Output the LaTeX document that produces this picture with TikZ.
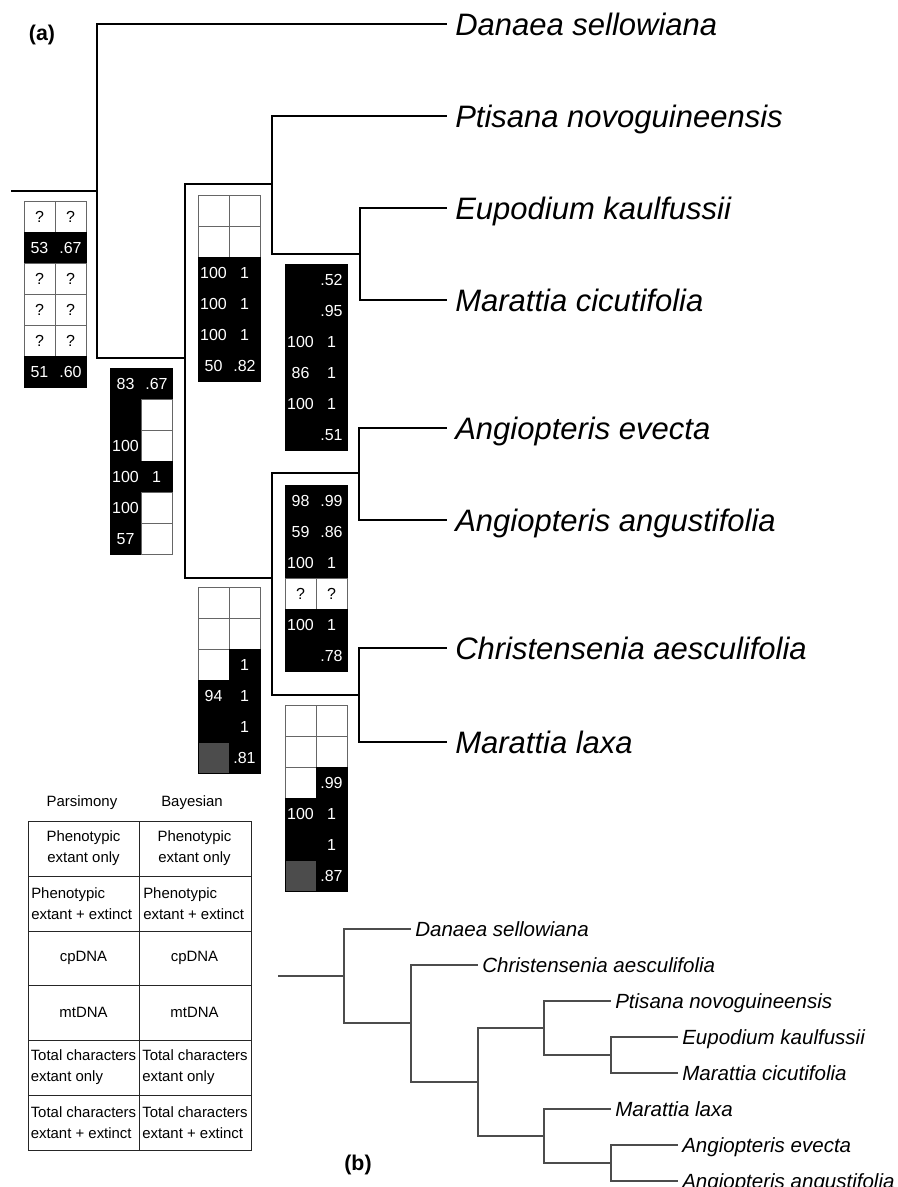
\documentclass[tikz,border=0pt]{standalone}
\usepackage{fontspec}
\setmainfont{Liberation Sans}

\tikzset{
  branch/.style={line width=2.2pt},
  thinbranch/.style={line width=1pt,black!70},
  taxon/.style={anchor=west,inner xsep=6pt,inner ysep=0pt,text height=16.6pt,text depth=0pt,
    font=\fontsize{23.25}{28}\selectfont\itshape},
  smalltaxon/.style={anchor=west,inner xsep=3pt,inner ysep=0pt,text height=11pt,text depth=0pt,
    font=\fontsize{15.4}{18}\selectfont\itshape},
  cellbase/.style={minimum width=23.25pt,minimum height=23.25pt,inner sep=0pt,
    text height=8.6pt,text depth=0pt,font=\fontsize{12}{14}\selectfont},
  cellw/.style={cellbase,fill=white,draw=black!60,line width=.6pt},
  cellb/.style={cellbase,fill=black,draw=black,line width=.6pt,text=white},
  cellg/.style={cellbase,fill=black!70,draw=black,line width=.6pt},
  tabline/.style={line width=.6pt,black!85},
  legtext/.style={inner sep=0pt,align=center,font=\fontsize{11.2}{15.75}\selectfont},
  panel/.style={font=\fontsize{16}{19}\selectfont\bfseries},
}

% one support box: name, left x, top y, rows (row/kind/text/kind/text)
\newcommand{\supportbox}[4]{%
  \foreach \row/\lkind/\ltxt/\rkind/\rtxt in {#4}{
    \node[cell\lkind] (#1-\row-l) at ({#2+15.5},{#3+31*\row-15.5}) {\ltxt};
    \node[cell\rkind] (#1-\row-r) at ({#2+46.5},{#3+31*\row-15.5}) {\rtxt};
  }}

\begin{document}
\begin{tikzpicture}[x=0.75pt,y=-0.75pt]
  \useasboundingbox (0,0) rectangle (898,1187);

  % (a) tree with support boxes
  \node[panel] (lblA) at (42,35) {(a)};
  \coordinate (root) at (11,191);
  \coordinate (nA) at (97,191);
  \coordinate (nB) at (185,358);
  \coordinate (nC) at (272,184);
  \coordinate (nD) at (272,578);
  \coordinate (nE) at (360,254);
  \coordinate (nF) at (359,473);
  \coordinate (nG) at (359,695);

  \node[taxon] (tDan) at (447,24) {Danaea sellowiana};
  \node[taxon] (tPti) at (447,116) {Ptisana novoguineensis};
  \node[taxon] (tEup) at (447,208) {Eupodium kaulfussii};
  \node[taxon] (tMci) at (447,300) {Marattia cicutifolia};
  \node[taxon] (tAev) at (447,428) {Angiopteris evecta};
  \node[taxon] (tAan) at (447,520) {Angiopteris angustifolia};
  \node[taxon] (tChr) at (447,648) {Christensenia aesculifolia};
  \node[taxon] (tMla) at (447,742) {Marattia laxa};

  \draw[branch] (root) -- (nA);
  \draw[branch] (nA) |- (tDan.west);
  \draw[branch] (nA) |- (nB);
  \draw[branch] (nB) |- (nC);
  \draw[branch] (nB) |- (nD);
  \draw[branch] (nC) |- (tPti.west);
  \draw[branch] (nC) |- (nE);
  \draw[branch] (nE) |- (tEup.west);
  \draw[branch] (nE) |- (tMci.west);
  \draw[branch] (nD) |- (nF);
  \draw[branch] (nD) |- (nG);
  \draw[branch] (nF) |- (tAev.west);
  \draw[branch] (nF) |- (tAan.west);
  \draw[branch] (nG) |- (tChr.west);
  \draw[branch] (nG) |- (tMla.west);

  \supportbox{sA}{24}{201}{1/w/?/w/?, 2/b/53/b/.67, 3/w/?/w/?, 4/w/?/w/?, 5/w/?/w/?, 6/b/51/b/.60}
  \supportbox{sB}{110}{368}{1/b/83/b/.67, 2/b/{}/w/{}, 3/b/100/w/{}, 4/b/100/b/1, 5/b/100/w/{}, 6/b/57/w/{}}
  \supportbox{sC}{198}{195}{1/w/{}/w/{}, 2/w/{}/w/{}, 3/b/100/b/1, 4/b/100/b/1, 5/b/100/b/1, 6/b/50/b/.82}
  \supportbox{sD}{285}{264}{1/b/{}/b/.52, 2/b/{}/b/.95, 3/b/100/b/1, 4/b/86/b/1, 5/b/100/b/1, 6/b/{}/b/.51}
  \supportbox{sE}{285}{485}{1/b/98/b/.99, 2/b/59/b/.86, 3/b/100/b/1, 4/w/?/w/?, 5/b/100/b/1, 6/b/{}/b/.78}
  \supportbox{sF}{198}{587}{1/w/{}/w/{}, 2/w/{}/w/{}, 3/w/{}/b/1, 4/b/94/b/1, 5/b/{}/b/1, 6/g/{}/b/.81}
  \supportbox{sG}{285}{705}{1/w/{}/w/{}, 2/w/{}/w/{}, 3/w/{}/b/.99, 4/b/100/b/1, 5/b/{}/b/1, 6/g/{}/b/.87}

  % key to the box rows
  \node[legtext] (hPar) at (82,803) {Parsimony};
  \node[legtext] (hBay) at (192,803) {Bayesian};
  \draw[tabline] (28,821) rectangle (251,1150);
  \foreach \y in {876,931,985,1040,1095}
    \draw[tabline] (28,\y) -- (251,\y);
  \draw[tabline] (139,821) -- (139,1150);

  \node[legtext] (kP1) at (83.5,848.5) {Phenotypic\\extant only};
  \node[legtext] (kB1) at (194.5,848.5) {Phenotypic\\extant only};
  \node[legtext,align=left,anchor=west] (kP2) at (31,903.5) {Phenotypic\\extant + extinct};
  \node[legtext,align=left,anchor=west] (kB2) at (143,903.5) {Phenotypic\\extant + extinct};
  \node[legtext] (kP3) at (83.5,958) {cpDNA};
  \node[legtext] (kB3) at (194.5,958) {cpDNA};
  \node[legtext] (kP4) at (83.5,1012.5) {mtDNA};
  \node[legtext] (kB4) at (194.5,1012.5) {mtDNA};
  \node[legtext,align=left,anchor=west] (kP5) at (30.5,1067.5) {Total characters\\extant only};
  \node[legtext,align=left,anchor=west] (kB5) at (142,1067.5) {Total characters\\extant only};
  \node[legtext,align=left,anchor=west] (kP6) at (30.5,1122.5) {Total characters\\extant + extinct};
  \node[legtext,align=left,anchor=west] (kB6) at (142,1122.5) {Total characters\\extant + extinct};

  % (b) alternative topology
  \node[panel] (lblB) at (358,1165) {(b)};
  \coordinate (broot) at (278,976);
  \coordinate (mA) at (344,976);
  \coordinate (mB) at (411,1023);
  \coordinate (mC) at (478,1082);
  \coordinate (mD) at (544,1028);
  \coordinate (mE) at (544,1136);
  \coordinate (mF) at (611,1055);
  \coordinate (mG) at (611,1163);

  \node[smalltaxon] (bDan) at (411,929) {Danaea sellowiana};
  \node[smalltaxon] (bChr) at (478,965) {Christensenia aesculifolia};
  \node[smalltaxon] (bPti) at (611,1001) {Ptisana novoguineensis};
  \node[smalltaxon] (bEup) at (678,1037) {Eupodium kaulfussii};
  \node[smalltaxon] (bMci) at (678,1073) {Marattia cicutifolia};
  \node[smalltaxon] (bMla) at (611,1109) {Marattia laxa};
  \node[smalltaxon] (bAev) at (678,1145) {Angiopteris evecta};
  \node[smalltaxon] (bAan) at (678,1181) {Angiopteris angustifolia};

  \draw[thinbranch] (broot) -- (mA);
  \draw[thinbranch] (mA) |- (bDan.west);
  \draw[thinbranch] (mA) |- (mB);
  \draw[thinbranch] (mB) |- (bChr.west);
  \draw[thinbranch] (mB) |- (mC);
  \draw[thinbranch] (mC) |- (mD);
  \draw[thinbranch] (mC) |- (mE);
  \draw[thinbranch] (mD) |- (bPti.west);
  \draw[thinbranch] (mD) |- (mF);
  \draw[thinbranch] (mF) |- (bEup.west);
  \draw[thinbranch] (mF) |- (bMci.west);
  \draw[thinbranch] (mE) |- (bMla.west);
  \draw[thinbranch] (mE) |- (mG);
  \draw[thinbranch] (mG) |- (bAev.west);
  \draw[thinbranch] (mG) |- (bAan.west);
\end{tikzpicture}
\end{document}
